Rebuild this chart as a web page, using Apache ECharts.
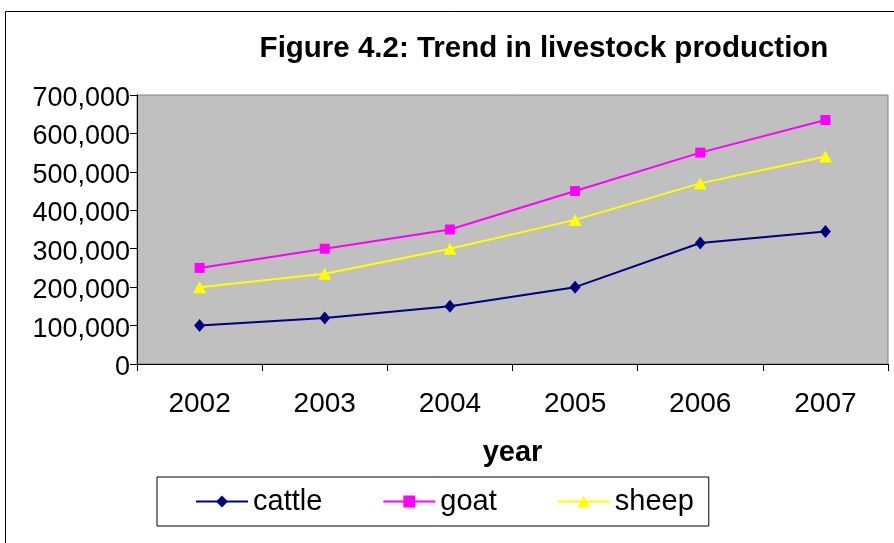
<!DOCTYPE html>
<html>
<head>
<meta charset="utf-8">
<script src="https://cdn.jsdelivr.net/npm/echarts@6/dist/echarts.min.js"></script>
<style>
  html, body { margin: 0; padding: 0; background: #fff; }
  #chart { width: 894px; height: 543px; }
</style>
</head>
<body>
<div id="chart"></div>
<script>
// Livestock production by year
var years = ['2002', '2003', '2004', '2005', '2006', '2007'];
var cattle = [100000, 120000, 150000, 200000, 315000, 345000];
var goat = [250000, 300000, 350000, 450000, 550000, 635000];
var sheep = [200000, 235000, 300000, 375000, 470000, 540000];

var FONT = '"Liberation Sans", Arial, sans-serif';

function fmt(v) {
  return '{v|' + String(v).replace(/\B(?=(\d{3})+(?!\d))/g, ',') + '}';
}

var chart = echarts.init(document.getElementById('chart'), null, { renderer: 'canvas' });

chart.setOption({
  animation: false,
  backgroundColor: '#ffffff',
  textStyle: { fontFamily: FONT },
  graphic: [
    {
      type: 'rect',
      silent: true,
      shape: { x: 5.5, y: 11.5, width: 900, height: 560 },
      style: { fill: 'none', stroke: '#000', lineWidth: 1 },
      z: -1
    },
    {
      type: 'text',
      x: 544,
      y: 49,
      style: {
        text: 'Figure 4.2: Trend in livestock production',
        font: 'bold 29.5px ' + FONT,
        fill: '#000',
        textAlign: 'center',
        textVerticalAlign: 'middle'
      }
    }
  ],
  grid: {
    left: 137,
    right: 6,
    top: 95,
    bottom: 179,
    show: true,
    backgroundColor: '#c0c0c0',
    borderColor: '#808080',
    borderWidth: 1
  },
  legend: {
    left: 157,
    top: 477,
    orient: 'horizontal',
    borderColor: '#000',
    borderWidth: 1,
    backgroundColor: '#fff',
    padding: [9, 15, 9, 38],
    itemWidth: 52,
    itemHeight: 15,
    itemGap: 60,
    textStyle: { fontSize: 29, fontFamily: FONT, color: '#000', lineHeight: 28, padding: [3, 0, 0, 0] },
    data: ['cattle', 'goat', 'sheep']
  },
  xAxis: {
    type: 'category',
    data: years,
    boundaryGap: true,
    name: 'year',
    nameLocation: 'middle',
    nameGap: 74,
    nameTextStyle: { fontSize: 29, fontWeight: 'bold', color: '#000', fontFamily: FONT },
    axisLine: { lineStyle: { color: '#000', width: 1 } },
    axisTick: { show: true, length: 7, lineStyle: { color: '#000' } },
    axisLabel: { fontSize: 28, color: '#000', margin: 26, fontFamily: FONT },
    splitLine: { show: false }
  },
  yAxis: {
    type: 'value',
    min: 0,
    max: 700000,
    interval: 100000,
    axisLine: { show: true, lineStyle: { color: '#000', width: 1 } },
    axisTick: { show: true, length: 7, lineStyle: { color: '#000' } },
    axisLabel: {
      color: '#000',
      margin: 7,
      formatter: fmt,
      rich: {
        v: { fontSize: 27, fontFamily: FONT, color: '#000', lineHeight: 27, padding: [7, 0, 0, 0] }
      }
    },
    splitLine: { show: false }
  },
  series: [
    {
      name: 'cattle',
      type: 'line',
      data: cattle,
      symbol: 'diamond',
      symbolSize: [11, 13],
      lineStyle: { color: '#000080', width: 2 },
      itemStyle: { color: '#000080' }
    },
    {
      name: 'goat',
      type: 'line',
      data: goat,
      symbol: 'rect',
      symbolSize: 10,
      lineStyle: { color: '#ff00ff', width: 2 },
      itemStyle: { color: '#ff00ff' }
    },
    {
      name: 'sheep',
      type: 'line',
      data: sheep,
      symbol: 'triangle',
      symbolSize: [13, 12],
      lineStyle: { color: '#ffff00', width: 2 },
      itemStyle: { color: '#ffff00' }
    }
  ]
});
</script>
</body>
</html>
